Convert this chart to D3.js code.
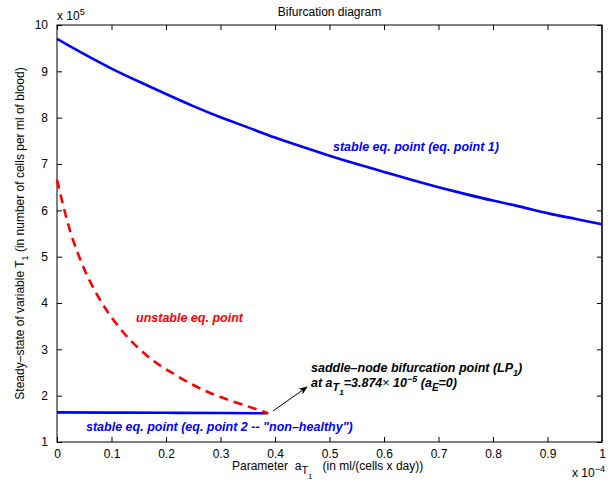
<!DOCTYPE html>
<html>
<head>
<meta charset="utf-8">
<script src="https://cdn.jsdelivr.net/npm/d3@7"></script>
<style>
  body { margin: 0; background: #fff; }
  text { font-family: "Liberation Sans", Arial, sans-serif; }
</style>
</head>
<body>
<div id="chart"></div>
<script>
// values (x in units of 1e-4, y in units of 1e5)
var stable1X = [0, 0.05, 0.1, 0.15, 0.2, 0.25, 0.3, 0.35, 0.4, 0.45, 0.5,
                0.55, 0.6, 0.65, 0.7, 0.75, 0.8, 0.85, 0.9, 0.95, 1.0];
var stable1Y = [9.70, 9.37, 9.06, 8.78, 8.51, 8.25, 8.01, 7.79, 7.57, 7.37, 7.18,
                7.00, 6.83, 6.66, 6.50, 6.35, 6.21, 6.08, 5.94, 5.82, 5.70];

var stable2X = [0, 0.1, 0.2, 0.3, 0.3874];
var stable2Y = [1.64, 1.635, 1.63, 1.625, 1.62];

var unstableX = [0, 0.02, 0.04, 0.06, 0.08, 0.1, 0.125, 0.15, 0.175, 0.2, 0.25, 0.3, 0.35, 0.3874];
var unstableY = [6.66, 5.72, 5.02, 4.48, 4.05, 3.69, 3.32, 3.02, 2.77, 2.57, 2.23, 1.97, 1.77, 1.62];

var xTicks = [0, 0.1, 0.2, 0.3, 0.4, 0.5, 0.6, 0.7, 0.8, 0.9, 1];
var yTicks = [1, 2, 3, 4, 5, 6, 7, 8, 9, 10];

var W = 613, H = 482;
var margin = {top: 25, right: 11, bottom: 40, left: 57};
var width = W - margin.left - margin.right;
var height = H - margin.top - margin.bottom;

var svg = d3.select("#chart").append("svg")
    .attr("width", W)
    .attr("height", H);

var g = svg.append("g")
    .attr("transform", "translate(" + margin.left + "," + margin.top + ")");

var x = d3.scaleLinear().domain([0, 1]).range([0, width]);
var y = d3.scaleLinear().domain([1, 10]).range([height, 0]);

// axes (ticks inside, mirrored on top/right)
function styleAxis(sel) {
  sel.select(".domain").remove();
  sel.selectAll("line").attr("stroke", "#000");
  sel.selectAll("text").attr("fill", "#000").attr("font-size", "12px");
}
g.append("g")
  .attr("transform", "translate(0," + height + ")")
  .call(d3.axisBottom(x).tickValues(xTicks).tickSize(-5).tickPadding(7).tickFormat(d3.format("")))
  .call(styleAxis);
g.append("g")
  .call(d3.axisLeft(y).tickValues(yTicks).tickSize(-5).tickPadding(9))
  .call(styleAxis);
g.append("g")
  .call(d3.axisTop(x).tickValues(xTicks).tickSize(-5).tickFormat(""))
  .call(styleAxis);
g.append("g")
  .attr("transform", "translate(" + width + ",0)")
  .call(d3.axisRight(y).tickValues(yTicks).tickSize(-5).tickFormat(""))
  .call(styleAxis);

g.append("rect")
  .attr("width", width).attr("height", height)
  .attr("fill", "none").attr("stroke", "#000").attr("stroke-width", 1);
g.append("line")
  .attr("x1", width).attr("x2", width).attr("y1", 0).attr("y2", height)
  .attr("stroke", "#333").attr("stroke-width", 2);

var line = d3.line()
  .x(function(d) { return x(d[0]); })
  .y(function(d) { return y(d[1]); })
  .curve(d3.curveNatural);

g.append("path")
  .datum(d3.zip(stable1X, stable1Y))
  .attr("d", line)
  .attr("fill", "none").attr("stroke", "#0000ff").attr("stroke-width", 2.6);

g.append("path")
  .datum(d3.zip(stable2X, stable2Y))
  .attr("d", line)
  .attr("fill", "none").attr("stroke", "#0000ff").attr("stroke-width", 2.6);

g.append("path")
  .datum(d3.zip(unstableX, unstableY))
  .attr("d", line)
  .attr("fill", "none").attr("stroke", "#ff0000").attr("stroke-width", 2.6)
  .attr("stroke-dasharray", "9,6");

// annotations
function label(txt, px, py, color) {
  return svg.append("text")
    .attr("x", px).attr("y", py)
    .attr("fill", color)
    .attr("font-size", "12.5px")
    .attr("font-weight", "bold")
    .attr("font-style", "italic")
    .text(txt);
}
label("stable eq. point (eq. point 1)", 333, 151, "#0000ff");
label("unstable eq. point", 136, 322, "#ff0000");
label("stable eq. point (eq. point 2 -- \"non\u2013healthy\")", 86, 431, "#0000ff");

var lp = label("saddle\u2013node bifurcation point (LP", 311, 372, "#000");
lp.append("tspan").attr("dy", 4).attr("font-size", "9px").text("1");
lp.append("tspan").attr("dy", -4).text(")");

var at = label("at a", 311, 387, "#000");
at.append("tspan").attr("dy", 4).attr("font-size", "11px").text("T");
at.append("tspan").attr("dy", 4).attr("font-size", "8px").text("1");
at.append("tspan").attr("dy", -8).text("=3.874");
at.append("tspan").attr("font-weight", "normal").attr("font-style", "normal").text("\u00d7");
at.append("tspan").text(" 10");
at.append("tspan").attr("dy", -5).attr("font-size", "9px").text("\u22125");
at.append("tspan").attr("dy", 5).text(" (a");
at.append("tspan").attr("dy", 4).attr("font-size", "10px").text("E");
at.append("tspan").attr("dy", -4).text("=0)");

// arrow
svg.append("defs").append("marker")
  .attr("id", "arrowhead")
  .attr("viewBox", "0 0 10 10")
  .attr("refX", 9).attr("refY", 5)
  .attr("markerWidth", 9).attr("markerHeight", 9)
  .attr("orient", "auto")
  .append("path").attr("d", "M0,1 L10,5 L0,9 L3,5 Z").attr("fill", "#000");
svg.append("line")
  .attr("x1", 273).attr("y1", 411).attr("x2", 307).attr("y2", 387)
  .attr("stroke", "#000").attr("stroke-width", 1)
  .attr("marker-end", "url(#arrowhead)");

// title
svg.append("text")
  .attr("x", margin.left + width / 2).attr("y", 16)
  .attr("text-anchor", "middle").attr("font-size", "12px")
  .text("Bifurcation diagram");

// exponent labels
var ex = svg.append("text").attr("x", 57).attr("y", 20).attr("font-size", "12px").text("x 10");
ex.append("tspan").attr("dy", -5).attr("font-size", "9px").text("5");

var ex2 = svg.append("text").attr("x", 572).attr("y", 477).attr("font-size", "12px").text("x 10");
ex2.append("tspan").attr("dy", -5).attr("font-size", "9px").text("\u22124");

// x label
var xl = svg.append("text")
  .attr("x", 232).attr("y", 470).attr("font-size", "12px")
  .attr("xml:space", "preserve")
  .text("Parameter  a");
xl.append("tspan").attr("dy", 4).attr("font-size", "11px").text("T");
xl.append("tspan").attr("dy", 5).attr("font-size", "8px").text("1");
xl.append("tspan").attr("dy", -9).text("   (in ml/(cells x day))");

// y label
var yl = svg.append("text")
  .attr("transform", "translate(24," + (margin.top + height / 2) + ") rotate(-90)")
  .attr("text-anchor", "middle").attr("font-size", "12px")
  .text("Steady\u2013state of variable T");
yl.append("tspan").attr("dy", 4).attr("font-size", "9px").text("1");
yl.append("tspan").attr("dy", -4).text(" (in number of cells per ml of blood)");
</script>
</body>
</html>
